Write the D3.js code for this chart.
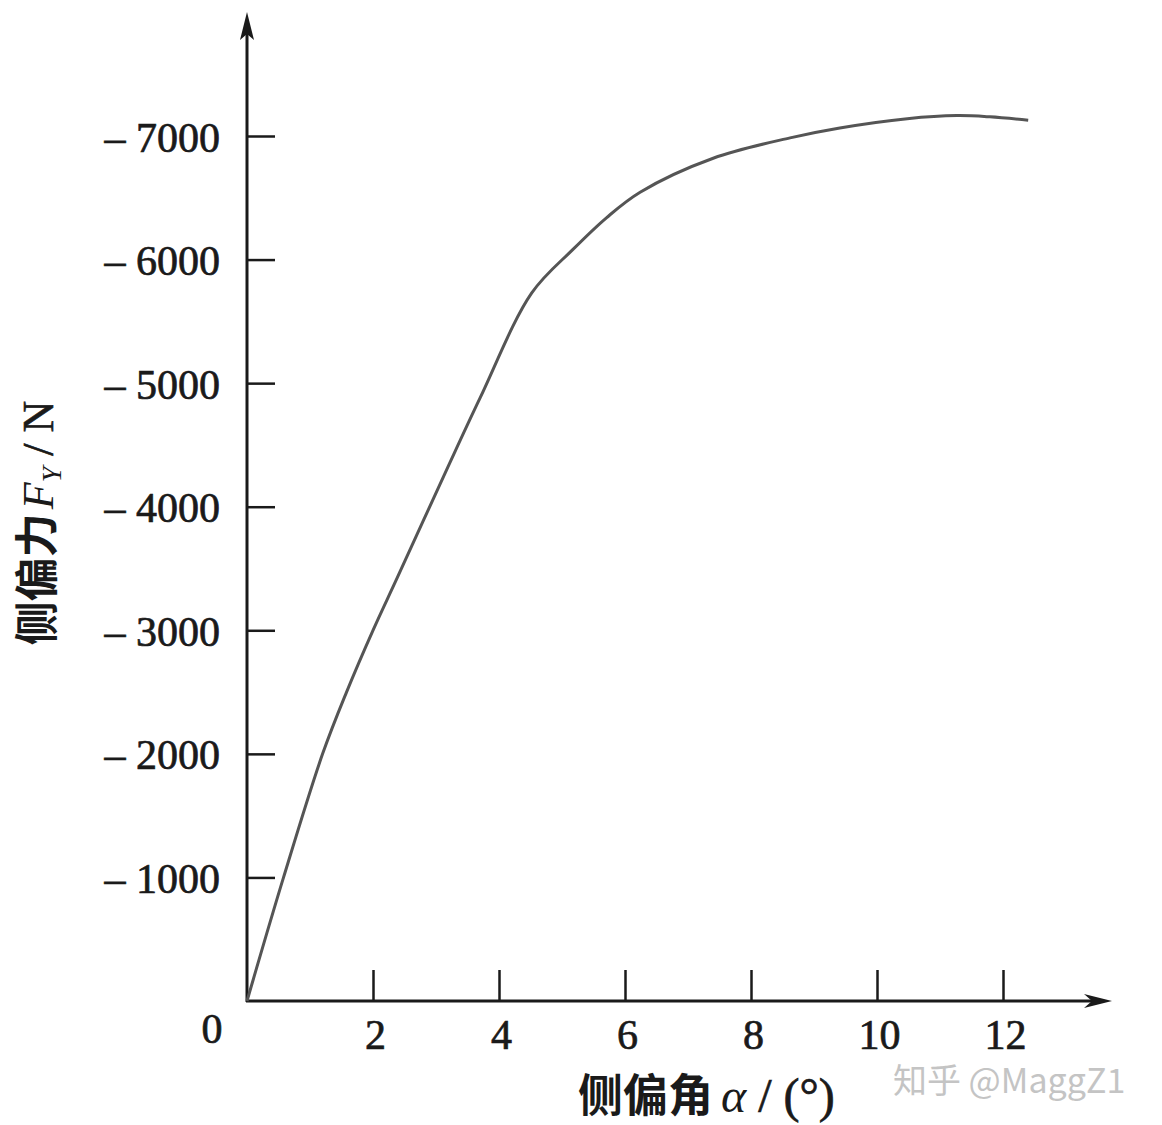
<!DOCTYPE html>
<html>
<head>
<meta charset="utf-8">
<script src="https://cdn.jsdelivr.net/npm/d3@7"></script>
<style>
  body { margin: 0; background: #fff; }
  svg { display: block; }
</style>
</head>
<body>
<div id="chart-area"></div>
<script>
// side-slip angle (deg) and lateral force (N)
const slipAngle = [0, 0.58, 1.2, 1.58, 2.0, 2.38, 3.17, 3.70, 4.52, 5.17, 5.71, 6.24, 7.40, 8.62, 9.41, 10.48, 11.27, 11.79, 12.40];
const lateralForce = [0, 1000, 2000, 2500, 3000, 3420, 4300, 4880, 5730, 6080, 6340, 6545, 6820, 6985, 7065, 7140, 7165, 7155, 7128];

const xTicks = [2, 4, 6, 8, 10, 12];
const yTicks = [1000, 2000, 3000, 4000, 5000, 6000, 7000];
const originLabel = '0';

const W = 1162;
const H = 1125;

const svg = d3.select('#chart-area')
  .append('svg')
  .attr('width', W)
  .attr('height', H);

const x = d3.scaleLinear()
  .domain([0, 12])
  .range([247, 1003]);

const y = d3.scaleLinear()
  .domain([0, 7000])
  .range([1001, 136]);

const serif = '"Liberation Serif", "Times New Roman", serif';
const cjk = '"Noto Sans CJK SC", sans-serif';
const ink = '#1a1a1a';

// Y axis (ticks pointing inward)
const yAxisCall = d3.axisLeft(y)
  .tickValues(yTicks)
  .tickSizeInner(-28)
  .tickSizeOuter(0)
  .tickPadding(27)
  .tickFormat((d) => '\u2013 ' + d);

const yAxis = svg.append('g')
  .attr('class', 'y axis-left')
  .attr('transform', 'translate(' + x(0) + ', 0)')
  .call(yAxisCall);

yAxis.select('.domain').remove();
yAxis.selectAll('line')
  .attr('stroke', ink)
  .attr('stroke-width', 2.5);
yAxis.selectAll('text')
  .attr('font-family', serif)
  .attr('font-size', '42px')
  .attr('fill', ink)
  .attr('stroke', ink)
  .attr('stroke-width', 0.7)
  .attr('dy', '0.36em');

// X axis (ticks pointing up)
const xAxisCall = d3.axisBottom(x)
  .tickValues(xTicks)
  .tickSizeInner(-31)
  .tickSizeOuter(0)
  .tickFormat((d) => d);

const xAxis = svg.append('g')
  .attr('class', 'x axis-bottom')
  .attr('transform', 'translate(0, ' + y(0) + ')')
  .call(xAxisCall);

xAxis.select('.domain').remove();
xAxis.selectAll('line')
  .attr('stroke', ink)
  .attr('stroke-width', 2.5);
xAxis.selectAll('text')
  .attr('font-family', serif)
  .attr('font-size', '42px')
  .attr('fill', ink)
  .attr('stroke', ink)
  .attr('stroke-width', 0.7)
  .attr('x', 2)
  .attr('y', 48)
  .attr('dy', 0);

// origin label
svg.append('text')
  .attr('x', x(0) - 35)
  .attr('y', y(0) + 42)
  .attr('text-anchor', 'middle')
  .attr('font-family', serif)
  .attr('font-size', '42px')
  .attr('fill', ink)
  .attr('stroke', ink)
  .attr('stroke-width', 0.7)
  .text(originLabel);

// axis lines with arrows
const axisTop = 12;
const axisRight = 1112;

svg.append('line')
  .attr('x1', x(0)).attr('y1', y(0) + 1)
  .attr('x2', x(0)).attr('y2', axisTop + 20)
  .attr('stroke', ink)
  .attr('stroke-width', 3);

svg.append('path')
  .attr('d', 'M' + x(0) + ',' + axisTop +
    ' L' + (x(0) - 7) + ',' + (axisTop + 28) +
    ' L' + x(0) + ',' + (axisTop + 22) +
    ' L' + (x(0) + 7) + ',' + (axisTop + 28) + ' Z')
  .attr('fill', ink);

svg.append('line')
  .attr('x1', x(0) - 1).attr('y1', y(0))
  .attr('x2', axisRight - 10).attr('y2', y(0))
  .attr('stroke', ink)
  .attr('stroke-width', 3);

svg.append('path')
  .attr('d', 'M' + axisRight + ',' + y(0) +
    ' L' + (axisRight - 28) + ',' + (y(0) - 7) +
    ' L' + (axisRight - 20) + ',' + y(0) +
    ' L' + (axisRight - 28) + ',' + (y(0) + 7) + ' Z')
  .attr('fill', ink);

// curve
const data = slipAngle.map((a, i) => ({ a: a, f: lateralForce[i] }));

const line = d3.line()
  .x((d) => x(d.a))
  .y((d) => y(d.f))
  .curve(d3.curveCatmullRom.alpha(0.5));

svg.append('path')
  .datum(data)
  .attr('d', line)
  .attr('fill', 'none')
  .attr('stroke', '#555')
  .attr('stroke-width', 3);

// X label
const xLabel = svg.append('text')
  .attr('x', 578)
  .attr('y', 1112)
  .attr('fill', ink)
  .attr('font-size', '45px');

xLabel.append('tspan')
  .attr('font-family', cjk)
  .attr('font-weight', 'bold')
  .text('侧偏角');
xLabel.append('tspan')
  .attr('font-family', serif)
  .attr('font-style', 'italic')
  .attr('font-size', '48px')
  .attr('dx', 8)
  .text('α');
xLabel.append('tspan')
  .attr('font-family', serif)
  .attr('font-size', '48px')
  .attr('stroke', ink)
  .attr('stroke-width', 0.7)
  .text(' / (°)');

// Y label
const yLabel = svg.append('text')
  .attr('transform', 'translate(37, 523) rotate(-90)')
  .attr('text-anchor', 'middle')
  .attr('dy', '0.36em')
  .attr('fill', ink)
  .attr('font-size', '44px');

yLabel.append('tspan')
  .attr('font-family', cjk)
  .attr('font-weight', 'bold')
  .text('侧偏力');
yLabel.append('tspan')
  .attr('font-family', serif)
  .attr('font-style', 'italic')
  .attr('dx', 4)
  .text('F');
yLabel.append('tspan')
  .attr('font-family', serif)
  .attr('font-style', 'italic')
  .attr('font-size', '28px')
  .attr('dy', 8)
  .text('Y');
yLabel.append('tspan')
  .attr('font-family', serif)
  .attr('dy', -8)
  .attr('stroke', ink)
  .attr('stroke-width', 0.6)
  .text(' / N');

// watermark
svg.append('text')
  .attr('x', 893)
  .attr('y', 1093)
  .attr('font-family', cjk)
  .attr('font-size', '34px')
  .attr('fill', '#c4c4c4')
  .text('知乎 @MaggZ1');
</script>
</body>
</html>
